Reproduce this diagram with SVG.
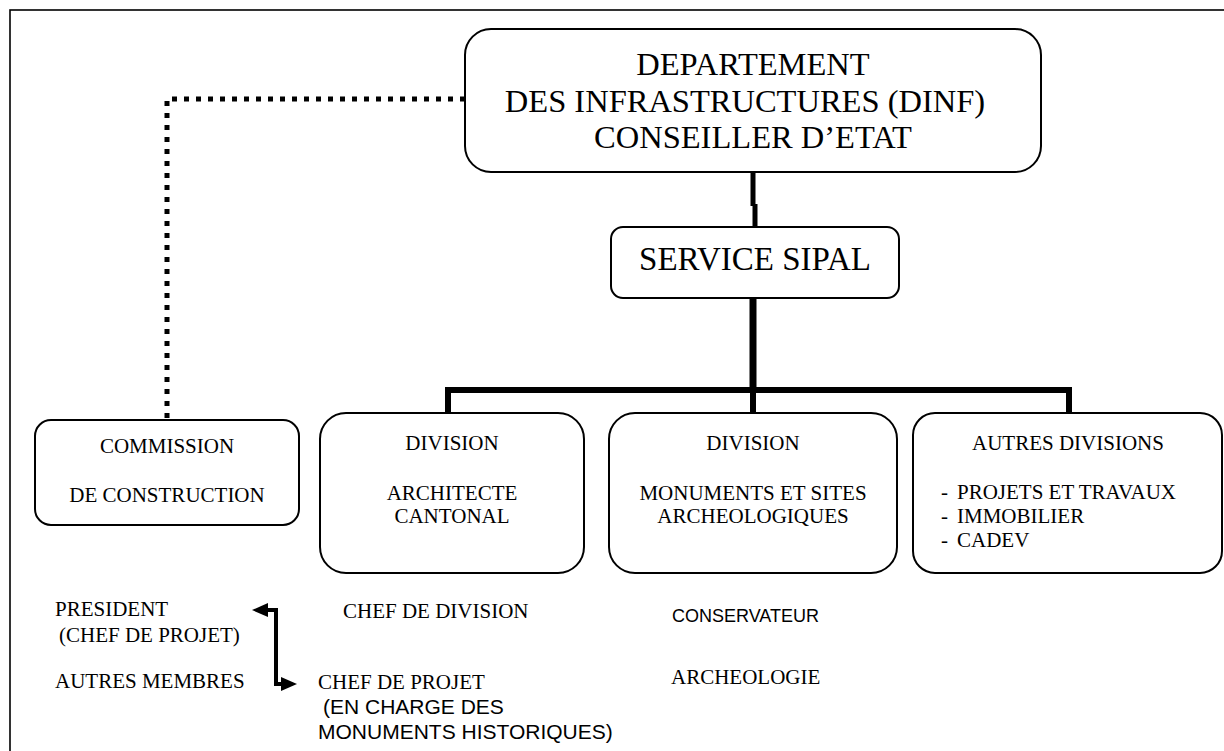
<svg xmlns="http://www.w3.org/2000/svg" width="1224" height="751" viewBox="0 0 1224 751">
<style>
.box{fill:#fff;stroke:#000;stroke-width:2}
.t{font-family:"Liberation Serif","Times New Roman",serif;fill:#000}
.s{font-family:"Liberation Sans",Arial,sans-serif;fill:#000}
.m{text-anchor:middle}
.thick{stroke:#000;fill:none;stroke-linecap:butt}
</style>
<rect width="1224" height="751" fill="#fff"/>
<rect x="10" y="10" width="1230" height="760" fill="none" stroke="#000" stroke-width="1.6"/>

<g id="connectors">
  <path d="M465,99 H167 V420" fill="none" stroke="#000" stroke-width="5" stroke-dasharray="5 7"/>
  <line class="thick" x1="753" y1="172" x2="753" y2="206" stroke-width="5"/>
  <line class="thick" x1="755" y1="204" x2="755" y2="227" stroke-width="5"/>
  <line class="thick" x1="753" y1="298" x2="753" y2="393" stroke-width="7"/>
  <path class="thick" d="M448,414 V390 H1069 V414" stroke-width="6"/>
  <line class="thick" x1="753" y1="390" x2="753" y2="414" stroke-width="6"/>
  <path d="M267,610 H276 V684 H283" fill="none" stroke="#000" stroke-width="4"/>
  <polygon points="252,610 268,603 268,617" fill="#000"/>
  <polygon points="297,684 281,677 281,691" fill="#000"/>
</g>

<g id="dinf">
  <rect class="box" x="465" y="29" width="576" height="143" rx="26"/>
  <text class="t m" x="753" y="75" font-size="32.5">DEPARTEMENT</text>
  <text class="t m" x="745" y="112" font-size="32.5">DES INFRASTRUCTURES (DINF)</text>
  <text class="t m" x="753" y="148" font-size="32.5">CONSEILLER D’ETAT</text>
</g>

<g id="sipal">
  <rect class="box" x="611" y="227" width="288" height="71" rx="12"/>
  <text class="t m" x="755" y="270" font-size="33">SERVICE SIPAL</text>
</g>

<g id="commission">
  <rect class="box" x="35" y="420" width="264" height="105" rx="16"/>
  <text class="t m" x="167" y="453" font-size="21">COMMISSION</text>
  <text class="t m" x="167" y="502" font-size="21">DE CONSTRUCTION</text>
</g>

<g id="div-architecte">
  <rect class="box" x="320" y="413" width="264" height="160" rx="26"/>
  <text class="t m" x="452" y="450" font-size="21">DIVISION</text>
  <text class="t m" x="452" y="500" font-size="21">ARCHITECTE</text>
  <text class="t m" x="452" y="523" font-size="21">CANTONAL</text>
</g>

<g id="div-monuments">
  <rect class="box" x="609" y="413" width="288" height="160" rx="26"/>
  <text class="t m" x="753" y="450" font-size="21">DIVISION</text>
  <text class="t m" x="753" y="500" font-size="21">MONUMENTS ET SITES</text>
  <text class="t m" x="753" y="523" font-size="21">ARCHEOLOGIQUES</text>
</g>

<g id="autres-divisions">
  <rect class="box" x="913" y="413" width="309" height="160" rx="22"/>
  <text class="t m" x="1068" y="450" font-size="21">AUTRES DIVISIONS</text>
  <text class="t" x="941" y="499" font-size="21">-</text>
  <text class="t" x="957" y="499" font-size="21">PROJETS ET TRAVAUX</text>
  <text class="t" x="941" y="523" font-size="21">-</text>
  <text class="t" x="957" y="523" font-size="21">IMMOBILIER</text>
  <text class="t" x="941" y="547" font-size="21">-</text>
  <text class="t" x="957" y="547" font-size="21">CADEV</text>
</g>

<g id="commission-members">
  <text class="t" x="55" y="616" font-size="21">PRESIDENT</text>
  <text class="t" x="59" y="642" font-size="21">(CHEF DE PROJET)</text>
  <text class="t" x="55" y="688" font-size="21">AUTRES MEMBRES</text>
</g>

<g id="architecte-staff">
  <text class="t" x="343" y="618" font-size="21">CHEF DE DIVISION</text>
  <text class="t" x="318" y="689" font-size="21">CHEF DE PROJET</text>
  <text class="s" x="323" y="714" font-size="21">(EN CHARGE DES</text>
  <text class="s" x="318" y="739" font-size="21">MONUMENTS HISTORIQUES)</text>
</g>

<g id="monuments-staff">
  <text class="s" x="672" y="622" font-size="18">CONSERVATEUR</text>
  <text class="t" x="671" y="684" font-size="21">ARCHEOLOGIE</text>
</g>
</svg>
